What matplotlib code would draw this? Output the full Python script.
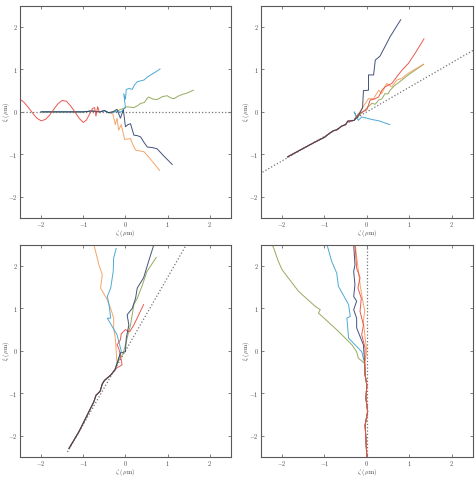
import numpy as np
import matplotlib
matplotlib.use('Agg')
import matplotlib.pyplot as plt

plt.rcParams['font.family'] = 'serif'
plt.rcParams['font.serif'] = ['cmr10', 'DejaVu Serif']
plt.rcParams['mathtext.fontset'] = 'cm'
plt.rcParams['axes.formatter.use_mathtext'] = True

navy = '#2e3f6b'
orange = '#f59a55'
cyan = '#3aa0d0'
green = '#8aa24e'
red = '#e8473f'

# reference ray direction (deg) and its extent along the ray
ref_angles = [0, 30, 60, 90]
ref_extent = [(-2.6, 2.6), (-3.0, 3.0), (-2.75, 3.0), (-2.6, 2.6)]

# panel 1 (top left)
tl_stem = [(-2.0, 0.0), (-1.5, 0.0), (-1.0, 0.0), (-0.8, 0.02), (-0.6, 0.0), (-0.5, 0.03), (-0.4, -0.02)]
tl_navy = [(-0.3, 0.0), (-0.2, 0.06), (-0.12, -0.15), (-0.05, 0.05), (0.0, -0.35), (0.06, -0.3),
           (0.12, -0.28), (0.2, -0.55), (0.28, -0.56), (0.36, -0.59), (0.44, -0.72), (0.52, -0.83),
           (0.63, -0.84), (0.75, -0.87), (0.9, -1.03), (1.11, -1.24)]
tl_orange = [(-0.3, -0.05), (-0.24, -0.3), (-0.2, -0.15), (-0.16, -0.43), (-0.1, -0.3), (-0.02, -0.65),
             (0.05, -0.64), (0.12, -0.63), (0.18, -0.78), (0.24, -0.9), (0.34, -0.92), (0.44, -0.94),
             (0.6, -1.12), (0.81, -1.38)]
tl_cyan = [(-0.25, 0.0), (-0.1, 0.0), (0.0, 0.1), (-0.04, 0.43), (0.0, 0.3), (0.02, 0.53), (0.09, 0.55),
           (0.16, 0.53), (0.22, 0.64), (0.28, 0.71), (0.36, 0.73), (0.44, 0.75), (0.52, 0.82), (0.6, 0.87),
           (0.7, 0.93), (0.82, 1.01)]
tl_green = [(-0.2, 0.02), (0.04, 0.12), (0.2, 0.1), (0.28, 0.14), (0.36, 0.2), (0.45, 0.22), (0.5, 0.3),
            (0.55, 0.35), (0.65, 0.3), (0.75, 0.29), (0.88, 0.36), (0.99, 0.38), (1.07, 0.33), (1.15, 0.31),
            (1.25, 0.37), (1.35, 0.41), (1.48, 0.45), (1.61, 0.51)]
tl_red = [(-2.5, 0.30), (-2.4, 0.22), (-2.3, 0.10), (-2.2, -0.03), (-2.1, -0.15), (-2.0, -0.21),
          (-1.9, -0.18), (-1.8, -0.08), (-1.7, 0.06), (-1.6, 0.19), (-1.5, 0.27), (-1.4, 0.25),
          (-1.3, 0.14), (-1.2, 0.0), (-1.1, -0.15), (-1.0, -0.25), (-0.93, -0.2), (-0.85, -0.05),
          (-0.78, 0.08), (-0.73, 0.1), (-0.7, -0.1), (-0.68, 0.0), (-0.66, 0.12), (-0.62, 0.0)]

# panel 2 (top right)
tr_stem = [(-1.87, -1.06), (-1.5, -0.86), (-1.2, -0.7), (-1.0, -0.6), (-0.9, -0.52), (-0.8, -0.45),
           (-0.7, -0.42), (-0.6, -0.34), (-0.5, -0.3), (-0.45, -0.22), (-0.35, -0.21), (-0.3, -0.2)]
tr_navy = [(-0.2, -0.1), (-0.1, 0.1), (-0.08, 0.5), (0.04, 0.51), (0.04, 0.87), (0.16, 0.87), (0.2, 1.22),
           (0.31, 1.31), (0.43, 1.54), (0.55, 1.77), (0.8, 2.17)]
tr_red = [(-0.2, -0.05), (0.0, 0.05), (0.08, 0.28), (0.18, 0.3), (0.28, 0.35), (0.35, 0.5), (0.43, 0.59),
          (0.59, 0.67), (0.71, 0.83), (0.83, 0.98), (0.98, 1.14), (1.14, 1.38), (1.35, 1.72)]
tr_orange = [(-0.2, -0.05), (0.04, 0.31), (0.16, 0.31), (0.28, 0.51), (0.35, 0.43), (0.47, 0.67),
             (0.59, 0.59), (0.71, 0.75), (0.83, 0.79), (0.98, 0.91), (1.34, 1.12)]
tr_green = [(-0.2, -0.1), (0.12, 0.2), (0.2, 0.18), (0.28, 0.28), (0.35, 0.3), (0.43, 0.43), (0.5, 0.42),
            (0.55, 0.51), (0.67, 0.63), (0.83, 0.75), (0.98, 0.87), (1.34, 1.12)]
tr_cyan = [(-0.25, -0.1), (-0.3, 0.0), (-0.2, -0.2), (-0.12, -0.12), (0.12, -0.18), (0.28, -0.21),
           (0.54, -0.3)]

# panel 3 (bottom left)
bl_stem = [(-1.34, -2.3), (-1.1, -1.9), (-0.9, -1.5), (-0.75, -1.2), (-0.7, -1.05), (-0.6, -0.95),
           (-0.55, -0.78), (-0.5, -0.7), (-0.35, -0.57), (-0.25, -0.45)]
bl_navy = [(-0.2, -0.3), (-0.12, -0.05), (0.0, -0.02), (0.02, 0.3), (0.08, 0.61), (0.04, 0.85),
           (0.16, 1.0), (0.24, 1.24), (0.28, 1.48), (0.43, 1.72), (0.55, 2.11), (0.67, 2.49)]
bl_green = [(-0.2, -0.3), (-0.05, -0.05), (0.04, 0.3), (0.12, 0.61), (0.2, 1.09), (0.28, 1.24),
            (0.39, 1.52), (0.51, 1.87), (0.73, 2.2)]
bl_red = [(-0.2, -0.4), (-0.08, -0.33), (-0.12, -0.1), (-0.16, 0.06), (-0.2, 0.14), (-0.12, 0.26),
          (-0.1, 0.4), (0.0, 0.5), (0.1, 0.45), (0.2, 0.61), (0.43, 1.09)]
bl_orange = [(-0.2, -0.3), (-0.24, 0.3), (-0.28, 0.54), (-0.28, 0.77), (-0.35, 1.0), (-0.45, 1.24),
             (-0.59, 1.48), (-0.55, 1.8), (-0.63, 2.03), (-0.71, 2.35), (-0.75, 2.5)]
bl_cyan = [(-0.2, -0.3), (-0.1, 0.0), (-0.2, 0.38), (-0.43, 0.77), (-0.35, 0.77), (-0.39, 1.09),
           (-0.43, 1.28), (-0.35, 1.48), (-0.29, 1.87), (-0.28, 2.19), (-0.22, 2.41)]

# panel 4 (bottom right)
br_stem = [(0.0, -2.5), (-0.02, -2.1), (-0.04, -1.75), (0.02, -1.43), (-0.02, -1.12), (0.0, -0.8),
           (-0.04, -0.57), (-0.05, -0.3)]
br_green = [(-0.2, -0.17), (-0.24, -0.02), (-0.35, 0.14), (-0.67, 0.46), (-1.14, 0.89), (-1.1, 0.97),
            (-1.22, 1.05), (-1.61, 1.4), (-2.0, 1.91), (-2.09, 2.11), (-2.2, 2.43), (-2.24, 2.5)]
br_cyan = [(-0.12, -0.02), (-0.43, 0.3), (-0.47, 0.77), (-0.39, 0.81), (-0.43, 1.09), (-0.67, 1.52),
           (-0.71, 1.83), (-0.83, 2.11), (-0.94, 2.5)]
br_navy = [(-0.08, 0.14), (-0.24, 0.54), (-0.24, 0.77), (-0.31, 0.97), (-0.24, 1.17), (-0.31, 1.28),
           (-0.28, 1.56), (-0.31, 1.87), (-0.28, 2.03), (-0.31, 2.5)]
br_red = [(-0.04, 0.06), (-0.12, 0.38), (-0.08, 0.61), (-0.16, 0.93), (-0.13, 1.24), (-0.21, 1.48),
          (-0.16, 1.72), (-0.24, 1.95), (-0.28, 2.5)]
br_orange = [(0.0, 0.0), (-0.04, 0.3), (-0.08, 0.69), (-0.05, 0.95), (-0.1, 1.2), (-0.15, 1.5),
             (-0.2, 1.9), (-0.25, 2.3), (-0.27, 2.5)]

panels = [
    (tl_stem, [(tl_orange, orange), (tl_green, green), (tl_cyan, cyan), (tl_navy, navy)], tl_red),
    (tr_stem, [(tr_cyan, cyan), (tr_green, green), (tr_orange, orange), (tr_red, red), (tr_navy, navy)], None),
    (bl_stem, [(bl_orange, orange), (bl_cyan, cyan), (bl_green, green), (bl_red, red), (bl_navy, navy)], None),
    (br_stem, [(br_green, green), (br_cyan, cyan), (br_navy, navy), (br_orange, orange), (br_red, red)], None),
]

fig = plt.figure(figsize=(4.77, 4.78), dpi=100)
rects = [[0.042, 0.544, 0.442, 0.444], [0.547, 0.544, 0.444, 0.444],
         [0.042, 0.044, 0.442, 0.444], [0.547, 0.044, 0.444, 0.444]]

for i, (stem, rays, extra) in enumerate(panels):
    ax = fig.add_axes(rects[i])
    ang = np.deg2rad(ref_angles[i])
    t = np.array(ref_extent[i])
    ax.plot(t * np.cos(ang), t * np.sin(ang), ls=':', color='0.45', lw=0.9)
    for pts, c in rays:
        p = np.array(stem + pts)
        ax.plot(p[:, 0], p[:, 1], color=c, lw=0.7, alpha=0.9)
    if extra is not None:
        p = np.array(extra)
        ax.plot(p[:, 0], p[:, 1], color=red, lw=0.7, alpha=0.9)
    ax.set_xlim(-2.5, 2.5)
    ax.set_ylim(-2.5, 2.5)
    ax.set_xticks([-2, -1, 0, 1, 2])
    ax.set_yticks([-2, -1, 0, 1, 2])
    ax.tick_params(direction='in', top=True, right=True, labelsize=4.5, length=2.5, width=0.5,
                   colors='0.3', pad=1.5)
    for s in ax.spines.values():
        s.set_color('0.35')
        s.set_linewidth(0.8)
    ax.set_xlabel(r'$\zeta$ ($\mu$m)', fontsize=4.5, color='0.25')
    ax.set_ylabel(r'$\xi$ ($\mu$m)', fontsize=4.5, color='0.25')
    ax.xaxis.set_label_coords(0.5, -0.047)
    ax.yaxis.set_label_coords(-0.04, 0.5)

fig.savefig('out.png', dpi=100)
